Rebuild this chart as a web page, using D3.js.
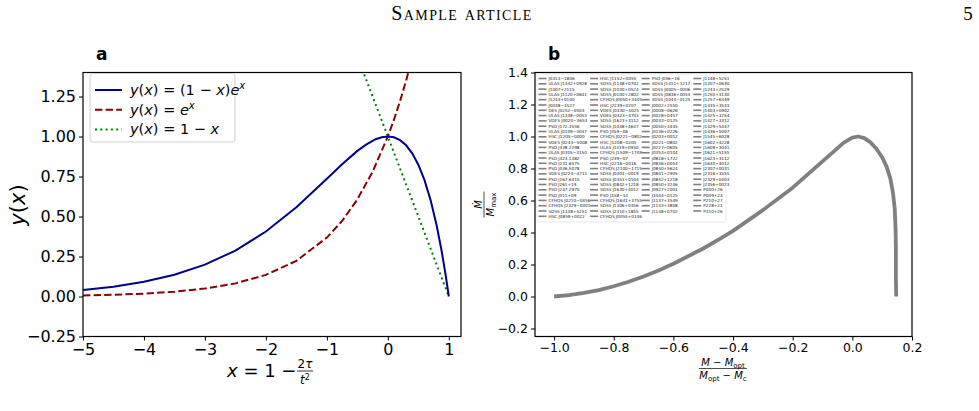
<!DOCTYPE html>
<html>
<head>
<meta charset="utf-8">
<script src="https://cdn.jsdelivr.net/npm/d3@7"></script>
<style>
  body { margin: 0; background: #fff; }
  svg { display: block; }
  .tick text { font-family: "DejaVu Sans", sans-serif; fill: #000; }
  .math { font-family: "DejaVu Sans", sans-serif; }
</style>
</head>
<body>
<div id="chart"></div>
<script>
// ---- data ----
// panel a: sampled x positions and the three curves
let xA = [-5, -4.5, -4, -3.5, -3, -2.5, -2, -1.5, -1, -0.75, -0.5, -0.35, -0.2, -0.1, 0, 0.1, 0.2, 0.3, 0.4, 0.5, 0.6, 0.7, 0.8, 0.88, 0.94, 0.98, 1];
let yBlue = [0.040, 0.061, 0.092, 0.136, 0.199, 0.287, 0.406, 0.558, 0.736, 0.827, 0.910, 0.951, 0.983, 0.995, 1.000, 0.995, 0.977, 0.945, 0.895, 0.824, 0.729, 0.604, 0.445, 0.289, 0.154, 0.053, 0.0];
let xRed = [-5, -4.5, -4, -3.5, -3, -2.5, -2, -1.5, -1, -0.75, -0.5, -0.25, 0, 0.1, 0.2, 0.3, 0.4];
let yRed = [0.007, 0.011, 0.018, 0.030, 0.050, 0.082, 0.135, 0.223, 0.368, 0.472, 0.607, 0.779, 1.0, 1.105, 1.221, 1.350, 1.492];
let xGreen = [-0.45, 0, 1];
let yGreen = [1.45, 1.0, 0.0];

let xTicksA = [-5, -4, -3, -2, -1, 0, 1];
let yTicksA = [-0.25, 0, 0.25, 0.5, 0.75, 1.0, 1.25];

// panel b: normalised curve (all objects overlap on one track)
let xB = [-1.0, -0.95, -0.9, -0.85, -0.8, -0.75, -0.7, -0.65, -0.6, -0.5, -0.44, -0.4, -0.3, -0.2, -0.1, -0.06, -0.03, 0.0, 0.02, 0.04, 0.06, 0.08, 0.1, 0.115, 0.127, 0.136, 0.142, 0.145, 0.146, 0.146, 0.147];
let yB = [0.0, 0.008, 0.022, 0.040, 0.064, 0.092, 0.125, 0.163, 0.205, 0.30, 0.365, 0.41, 0.54, 0.68, 0.845, 0.91, 0.96, 0.993, 1.0, 0.99, 0.965, 0.925, 0.87, 0.81, 0.74, 0.65, 0.55, 0.42, 0.28, 0.12, 0.0];

let xTicksB = [-1.0, -0.8, -0.6, -0.4, -0.2, 0.0, 0.2];
let yTicksB = [-0.2, 0.0, 0.2, 0.4, 0.6, 0.8, 1.0, 1.2, 1.4];

// legend names, one list per legend column
let namesCol1 = ['J0313\u22121806', 'ULAS J1342+0928', 'J1007+2115', 'ULAS J1120+0641', 'J1243+0100', 'J0038\u22121527',
  'DES J0252\u22120503', 'ULAS J1348\u22120054', 'VDES J0020\u22123653', 'PSO J172.3556', 'ULAS J0109\u22123047',
  'HSC J1205\u22120000', 'VDES J0244\u22125008', 'PSO J338.2298', 'ULAS J0305\u22123150', 'PSO J323.1382',
  'PSO J231.6575', 'PSO J036.5078', 'VDES J0224\u22124711', 'PSO J167.6415', 'PSO J261+19', 'PSO J247.2970',
  'PSO J011+09', 'CFHQS J0210\u22120456', 'CFHQS J2329\u22120301', 'SDSS J1148+5251', 'HSC J0859+0022'];
let namesCol2 = ['HSC J1152+0055', 'SDSS J1148+0702', 'SDSS J1030+0524', 'SDSS J0100+2802', 'CFHQS J0050+3445',
  'HSC J2239+0207', 'VDES J0330\u22124025', 'VDES J0323\u22124701', 'SDSS J1623+3112', 'SDSS J1048+4637',
  'PSO J359\u221206', 'CFHQS J0221\u22120802', 'HSC J1208\u22120200', 'ULAS J1319+0950', 'CFHQS J1509\u22121749',
  'PSO J239\u221207', 'HSC J2216\u22120016', 'CFHQS J2100\u22121715', 'SDSS J0303\u22120019', 'SDSS J0353+0104',
  'SDSS J0842+1218', 'SDSS J1630+4012', 'PSO J158\u221214', 'CFHQS J1641+3755', 'SDSS J1306+0356',
  'SDSS J2310+1855', 'CFHQS J0055+0146'];
let namesCol3 = ['PSO J056\u221216', 'SDSS J1411+1217', 'SDSS J0005\u22120006', 'SDSS J0836+0054', 'SDSS J1044\u22120125',
  'J0002+2550', 'J0008\u22120626', 'J0028+0457', 'J0033\u22120125', 'J0050+3445', 'J0136+0226', 'J0203+0012',
  'J0221\u22120802', 'J0227\u22120605', 'J0353+0104', 'J0818+1722', 'J0836+0054', 'J0840+5624', 'J0841+2905',
  'J0842+1218', 'J0850+3246', 'J0927+2001', 'J1044\u22120125', 'J1137+3549', 'J1143+3808', 'J1148+0702'];
let namesCol4 = ['J1148+5251', 'J1207+0630', 'J1243+2529', 'J1250+3130', 'J1257+6349', 'J1335+3533', 'J1403+0902',
  'J1425+3254', 'J1427+3312', 'J1429+5447', 'J1436+5007', 'J1545+6028', 'J1602+4228', 'J1609+3041',
  'J1621+5155', 'J1623+3112', 'J1630+4012', 'J2307+0031', 'J2316+3555', 'J2329+0403', 'J2356+0023',
  'P000+26', 'P009+24', 'P210+27', 'P228+21', 'P310+26'];

// ---- page ----
let svgWidth = 979;
let svgHeight = 411;

let svg = d3.select('#chart')
    .append('svg')
    .attr('width', svgWidth)
    .attr('height', svgHeight);

svg.append('rect').attr('width', svgWidth).attr('height', svgHeight).attr('fill', '#fff');

// running head of the article page
svg.append('text')
    .attr('x', 462).attr('y', 20)
    .attr('text-anchor', 'middle')
    .style('font-family', '"Liberation Serif", serif')
    .style('font-variant', 'small-caps')
    .style('font-size', '20px')
    .style('letter-spacing', '1.4px')
    .text('Sample article');
svg.append('text')
    .attr('x', 968).attr('y', 20)
    .attr('text-anchor', 'middle')
    .style('font-family', '"Liberation Serif", serif')
    .style('font-size', '19px')
    .text('5');

let plotTop = 72.5, plotBottom = 336.5;

// ================= panel a =================
let xScaleA = d3.scaleLinear().domain([-5, 1.2]).range([83, 461]);
let yScaleA = d3.scaleLinear().domain([-0.25, 1.4]).range([plotBottom, plotTop]);

svg.append('defs').append('clipPath').attr('id', 'clipA')
    .append('rect')
    .attr('x', 83).attr('y', plotTop)
    .attr('width', 461 - 83).attr('height', plotBottom - plotTop);

let panelA = svg.append('g');

let lineA = d3.line().x(d => xScaleA(d[0])).y(d => yScaleA(d[1]));

panelA.append('path')
    .datum(xGreen.map((x, i) => [x, yGreen[i]]))
    .attr('clip-path', 'url(#clipA)')
    .attr('d', lineA)
    .attr('fill', 'none')
    .attr('stroke', '#008000')
    .attr('stroke-width', 2)
    .attr('stroke-dasharray', '2,3.3');

panelA.append('path')
    .datum(xRed.map((x, i) => [x, yRed[i]]))
    .attr('clip-path', 'url(#clipA)')
    .attr('d', lineA)
    .attr('fill', 'none')
    .attr('stroke', '#8b0000')
    .attr('stroke-width', 2)
    .attr('stroke-dasharray', '7.4,3.2');

panelA.append('path')
    .datum(xA.map((x, i) => [x, yBlue[i]]))
    .attr('clip-path', 'url(#clipA)')
    .attr('d', lineA)
    .attr('fill', 'none')
    .attr('stroke', '#00008b')
    .attr('stroke-width', 2);

// axes for panel a
let axisXA = panelA.append('g')
    .attr('transform', `translate(0, ${plotBottom})`)
    .call(d3.axisBottom(xScaleA).tickValues(xTicksA).tickFormat(d3.format('d')).tickSize(4).tickPadding(3).tickSizeOuter(0));
let axisYA = panelA.append('g')
    .attr('transform', 'translate(83, 0)')
    .call(d3.axisLeft(yScaleA).tickValues(yTicksA).tickFormat(d3.format('.2f')).tickSize(4).tickPadding(3).tickSizeOuter(0));
[axisXA, axisYA].forEach(a => {
    a.selectAll('.tick text').style('font-size', '16px');
    a.select('.domain').remove();
});

panelA.append('rect')
    .attr('x', 83).attr('y', plotTop)
    .attr('width', 461 - 83).attr('height', plotBottom - plotTop)
    .attr('fill', 'none').attr('stroke', '#000').attr('stroke-width', 1.2);

// legend for panel a
let legA = panelA.append('g');
legA.append('rect')
    .attr('x', 90).attr('y', 73.5).attr('width', 145).attr('height', 68.5)
    .attr('rx', 3)
    .attr('fill', '#fff').attr('fill-opacity', 0.8)
    .attr('stroke', '#d0d0d0');

let legItems = [
    {color: '#00008b', dash: null, parts: [['y', 1], ['(', 0], ['x', 1], [') = (1 \u2212 ', 0], ['x', 1], [')', 0], ['e', 1], ['x', 2]]},
    {color: '#8b0000', dash: '7.4,3.2', parts: [['y', 1], ['(', 0], ['x', 1], [') = ', 0], ['e', 1], ['x', 2]]},
    {color: '#008000', dash: '2,3.3', parts: [['y', 1], ['(', 0], ['x', 1], [') = 1 \u2212 ', 0], ['x', 1]]}
];
legItems.forEach((item, i) => {
    let cy = 90 + i * 19.7;
    legA.append('line')
        .attr('x1', 95).attr('x2', 122).attr('y1', cy).attr('y2', cy)
        .attr('stroke', item.color).attr('stroke-width', 2)
        .attr('stroke-dasharray', item.dash);
    let t = legA.append('text')
        .attr('class', 'math')
        .attr('x', 130).attr('y', cy + 5)
        .style('font-size', '14.5px');
    item.parts.forEach(p => {
        let s = t.append('tspan').text(p[0]);
        if (p[1] >= 1) s.style('font-style', 'italic');
        if (p[1] === 2) s.attr('dy', -6).style('font-size', '10px');
    });
});

// panel letter and axis titles
svg.append('text')
    .attr('x', 96).attr('y', 60)
    .style('font-family', '"DejaVu Sans", sans-serif')
    .style('font-weight', 'bold').style('font-size', '17px')
    .text('a');

let yLab = svg.append('text')
    .attr('class', 'math')
    .attr('transform', 'translate(25, 205) rotate(-90)')
    .attr('text-anchor', 'middle')
    .style('font-size', '21px');
yLab.append('tspan').style('font-style', 'italic').text('y');
yLab.append('tspan').text('(');
yLab.append('tspan').style('font-style', 'italic').text('x');
yLab.append('tspan').text(')');

let xLab = svg.append('text')
    .attr('class', 'math')
    .attr('x', 227).attr('y', 377)
    .style('font-size', '18px');
xLab.append('tspan').style('font-style', 'italic').text('x');
xLab.append('tspan').text(' = 1 \u2212 ');
let fracA = svg.append('g').attr('class', 'math').style('font-size', '12px');
fracA.append('text').attr('x', 305).attr('y', 368).attr('text-anchor', 'middle')
    .html('2<tspan font-style="italic">\u03c4</tspan>');
fracA.append('line').attr('x1', 297).attr('x2', 313).attr('y1', 371).attr('y2', 371)
    .attr('stroke', '#000').attr('stroke-width', 0.8);
fracA.append('text').attr('x', 305).attr('y', 384).attr('text-anchor', 'middle')
    .html('<tspan font-style="italic">t</tspan><tspan dy="-4" font-size="8px">2</tspan>');

// ================= panel b =================
let xScaleB = d3.scaleLinear().domain([-1.064, 0.2]).range([535, 912]);
let yScaleB = d3.scaleLinear().domain([-0.25, 1.4]).range([plotBottom, plotTop]);

let panelB = svg.append('g');

panelB.append('path')
    .datum(xB.map((x, i) => [x, yB[i]]))
    .attr('d', d3.line().x(d => xScaleB(d[0])).y(d => yScaleB(d[1])))
    .attr('fill', 'none')
    .attr('stroke', '#808080')
    .attr('stroke-width', 3.8)
    .attr('stroke-linejoin', 'round');

let axisXB = panelB.append('g')
    .attr('transform', `translate(0, ${plotBottom})`)
    .call(d3.axisBottom(xScaleB).tickValues(xTicksB).tickFormat(d3.format('.1f')).tickSize(4).tickPadding(3).tickSizeOuter(0));
let axisYB = panelB.append('g')
    .attr('transform', 'translate(535, 0)')
    .call(d3.axisLeft(yScaleB).tickValues(yTicksB).tickFormat(d3.format('.1f')).tickSize(4).tickPadding(3).tickSizeOuter(0));
[axisXB, axisYB].forEach(a => {
    a.selectAll('.tick text').style('font-size', '12.5px');
    a.select('.domain').remove();
});

panelB.append('rect')
    .attr('x', 535).attr('y', plotTop)
    .attr('width', 912 - 535).attr('height', plotBottom - plotTop)
    .attr('fill', 'none').attr('stroke', '#000').attr('stroke-width', 1.2);

// four-column legend of objects
let legB = panelB.append('g');
legB.append('rect')
    .attr('x', 537).attr('y', 74).attr('width', 189).attr('height', 148)
    .attr('rx', 1.5)
    .attr('fill', '#fff').attr('fill-opacity', 0.8)
    .attr('stroke', '#d8d8d8').attr('stroke-width', 0.6);

[namesCol1, namesCol2, namesCol3, namesCol4].forEach((col, c) => {
    let x0 = 538.5 + c * 51.6;
    let rows = legB.append('g').selectAll('g')
        .data(col)
        .enter()
        .append('g')
        .attr('transform', (d, i) => `translate(${x0}, ${78.5 + i * 5.3})`);
    rows.append('line')
        .attr('x1', 0).attr('x2', 8)
        .attr('stroke', '#808080').attr('stroke-width', 1.6);
    rows.append('text')
        .attr('x', 10).attr('y', 1.5)
        .style('font-family', '"DejaVu Sans", sans-serif')
        .style('font-size', '4.2px')
        .attr('fill', '#222')
        .text(d => d);
});

svg.append('text')
    .attr('x', 548).attr('y', 60)
    .style('font-family', '"DejaVu Sans", sans-serif')
    .style('font-weight', 'bold').style('font-size', '17px')
    .text('b');

// y title: Mdot / M_max, rotated
let yFrac = svg.append('g')
    .attr('class', 'math')
    .attr('transform', 'translate(484, 204.5) rotate(-90)')
    .style('font-size', '10px');
yFrac.append('text').attr('x', 0).attr('y', -2.5).attr('text-anchor', 'middle')
    .style('font-style', 'italic').text('\u1e40');
yFrac.append('line').attr('x1', -13).attr('x2', 13).attr('y1', 0).attr('y2', 0)
    .attr('stroke', '#000').attr('stroke-width', 0.7);
yFrac.append('text').attr('x', 0).attr('y', 9.5).attr('text-anchor', 'middle')
    .html('<tspan font-style="italic">M</tspan><tspan dy="2" font-size="7px">max</tspan>');

// x title: (M - M_opt) / (M_opt - M_c)
let xFrac = svg.append('g')
    .attr('class', 'math')
    .attr('transform', 'translate(723, 368.5)')
    .style('font-size', '10px');
xFrac.append('text').attr('x', 0).attr('y', -3).attr('text-anchor', 'middle')
    .html('<tspan font-style="italic">M</tspan> \u2212 <tspan font-style="italic">M</tspan><tspan dy="2" font-size="7px">opt</tspan>');
xFrac.append('line').attr('x1', -24).attr('x2', 24).attr('y1', 0).attr('y2', 0)
    .attr('stroke', '#000').attr('stroke-width', 0.7);
xFrac.append('text').attr('x', 0).attr('y', 10).attr('text-anchor', 'middle')
    .html('<tspan font-style="italic">M</tspan><tspan dy="2" font-size="7px">opt</tspan><tspan dy="-2"> \u2212 </tspan><tspan font-style="italic">M</tspan><tspan dy="2" font-size="7px">c</tspan>');
</script>
</body>
</html>
